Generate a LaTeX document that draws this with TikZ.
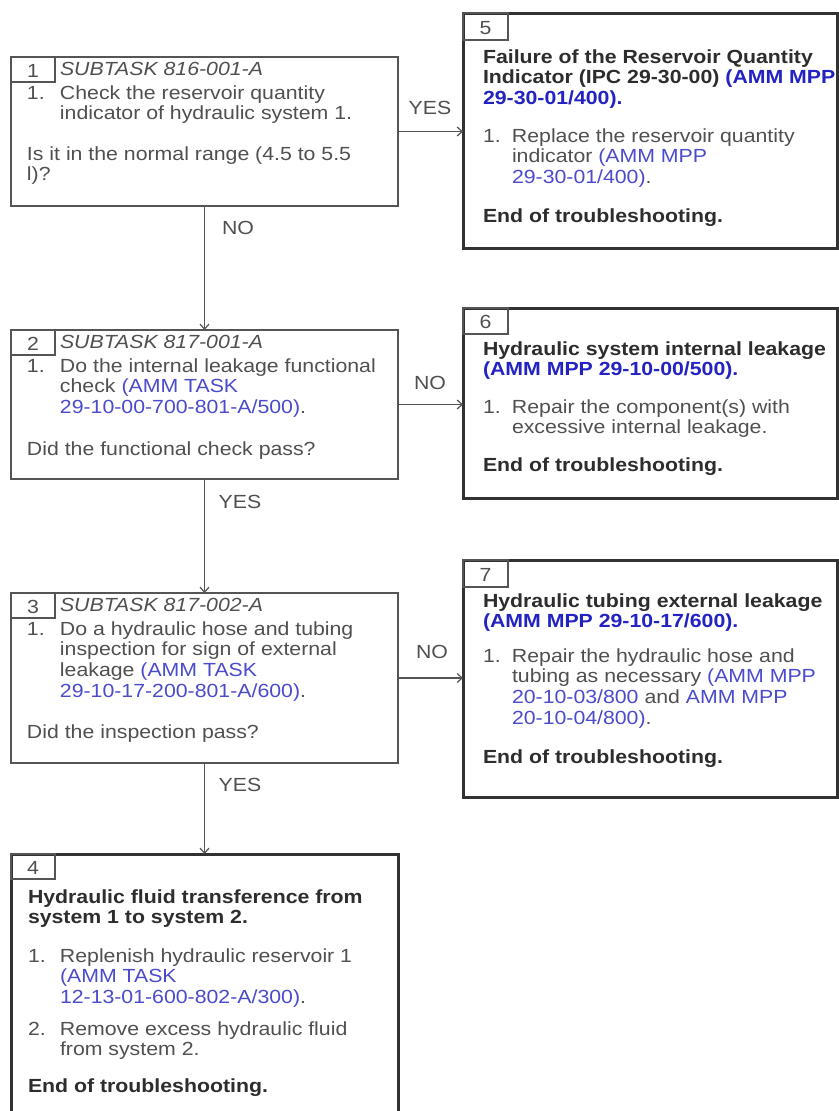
\documentclass[tikz,border=0pt]{standalone}
\usepackage{fontspec}
\setmainfont{Liberation Sans}[FakeStretch=1.12]
\usetikzlibrary{arrows.meta}
\definecolor{txtc}{RGB}{80,80,80}
\definecolor{hdc}{RGB}{45,45,45}
\definecolor{lnk}{RGB}{75,75,205}
\definecolor{blnk}{RGB}{35,35,195}
\definecolor{framec}{RGB}{85,85,85}
\definecolor{heavyc}{RGB}{50,50,50}
\newcommand\bodyfont{\fontsize{19}{20.7}\selectfont}
\newcommand\itm[3]{\parbox[t]{400pt}{\hangindent=#1\hangafter=1\noindent\makebox[#1][l]{#2}#3}}
\newcommand\pb[1]{\parbox[t]{400pt}{\noindent #1}}
\newcommand\lk[1]{\textcolor{lnk}{#1}}
\newcommand\blk[1]{\textcolor{blnk}{#1}}
\begin{document}
\begin{tikzpicture}[x=1pt,y=-1pt,
  every node/.style={inner sep=0pt,outer sep=0pt},
  lightbox/.style={draw=framec,line width=1.4pt,rectangle,anchor=north west},
  heavybox/.style={draw=heavyc,line width=3pt,rectangle,anchor=north west},
  tabbox/.style={draw=framec,line width=1.3pt,rectangle,anchor=north west,minimum width=44pt,minimum height=25pt},
  numtxt/.style={anchor=base,text=txtc,font=\bodyfont},
  subtxt/.style={anchor=base west,text=txtc,font=\bodyfont\itshape},
  bodytxt/.style={anchor=base west,text=txtc,font=\bodyfont},
  headtxt/.style={anchor=base west,text=hdc,font=\bodyfont\bfseries},
  lbl/.style={anchor=center,text=txtc,font=\bodyfont},
  conn/.style={draw=framec,line width=1.2pt,-{Straight Barb[length=5pt,width=9pt]}}
]
\useasboundingbox[fill=white] (0,0) rectangle (838,1111);

% ---------- Box 1 ----------
\node[lightbox,minimum width=387pt,minimum height=149pt] (b1) at (11,57) {};
\node[tabbox] (t1) at (11,57) {};
\node[numtxt] (n1) at (33,77) {1};
\node[subtxt] (s1) at (60,75) {SUBTASK 816-001-A};
\node[bodytxt] (p1a) at (27,99) {\itm{33pt}{1.}{Check the reservoir quantity\\indicator of hydraulic system 1.}};
\node[bodytxt] (p1b) at (27,160) {\pb{Is it in the normal range (4.5 to 5.5\\l)?}};

% ---------- Box 2 ----------
\node[lightbox,minimum width=387pt,minimum height=149pt] (b2) at (11,330) {};
\node[tabbox] (t2) at (11,330) {};
\node[numtxt] (n2) at (33,350) {2};
\node[subtxt] (s2) at (60,348) {SUBTASK 817-001-A};
\node[bodytxt] (p2a) at (27,372) {\itm{33pt}{1.}{Do the internal leakage functional\\check \lk{(AMM TASK}\\\lk{29-10-00-700-801-A/500)}.}};
\node[bodytxt] (p2b) at (27,455) {Did the functional check pass?};

% ---------- Box 3 ----------
\node[lightbox,minimum width=387pt,minimum height=170pt] (b3) at (11,593) {};
\node[tabbox] (t3) at (11,593) {};
\node[numtxt] (n3) at (33,613) {3};
\node[subtxt] (s3) at (60,611) {SUBTASK 817-002-A};
\node[bodytxt] (p3a) at (27,635) {\itm{33pt}{1.}{Do a hydraulic hose and tubing\\inspection for sign of external\\leakage \lk{(AMM TASK}\\\lk{29-10-17-200-801-A/600)}.}};
\node[bodytxt] (p3b) at (27,738) {Did the inspection pass?};

% ---------- Box 4 (cut at bottom) ----------
\node[minimum width=387pt,minimum height=262pt,anchor=north west] (b4) at (11,854) {};
\draw[draw=heavyc,line width=3pt] (b4.south west) -- (b4.north west) -- (b4.north east) -- (b4.south east);
\node[tabbox] (t4) at (11,854) {};
\node[numtxt] (n4) at (33,874) {4};
\node[headtxt] (h4) at (28,903) {\pb{Hydraulic fluid transference from\\system 1 to system 2.}};
\node[bodytxt] (p4a) at (28,962) {\itm{32pt}{1.}{Replenish hydraulic reservoir 1\\\lk{(AMM TASK}\\\lk{12-13-01-600-802-A/300)}.}};
\node[bodytxt] (p4b) at (28,1035) {\itm{32pt}{2.}{Remove excess hydraulic fluid\\from system 2.}};
\node[headtxt] (e4) at (28,1092) {End of troubleshooting.};

% ---------- Box 5 ----------
\node[heavybox,minimum width=374pt,minimum height=235pt] (b5) at (463,13) {};
\node[tabbox,minimum width=45pt,minimum height=27pt] (t5) at (463,13) {};
\node[numtxt] (n5) at (485.5,34) {5};
\node[headtxt] (h5) at (483,63) {\pb{Failure of the Reservoir Quantity\\Indicator (IPC 29-30-00) \blk{(AMM MPP}\\\blk{29-30-01/400).}}};
\node[bodytxt] (p5a) at (483,142) {\itm{29pt}{1.}{Replace the reservoir quantity\\indicator \lk{(AMM MPP}\\\lk{29-30-01/400)}.}};
\node[headtxt] (e5) at (483,222) {End of troubleshooting.};

% ---------- Box 6 ----------
\node[heavybox,minimum width=374pt,minimum height=190pt] (b6) at (463,308) {};
\node[tabbox,minimum width=45pt,minimum height=26pt] (t6) at (463,308) {};
\node[numtxt] (n6) at (485.5,328) {6};
\node[headtxt] (h6) at (483,355) {\pb{Hydraulic system internal leakage\\\blk{(AMM MPP 29-10-00/500).}}};
\node[bodytxt] (p6a) at (483,413) {\itm{29pt}{1.}{Repair the component(s) with\\excessive internal leakage.}};
\node[headtxt] (e6) at (483,471) {End of troubleshooting.};

% ---------- Box 7 ----------
\node[heavybox,minimum width=374pt,minimum height=237pt] (b7) at (463,560) {};
\node[tabbox,minimum width=45pt,minimum height=27pt] (t7) at (463,560) {};
\node[numtxt] (n7) at (485.5,581) {7};
\node[headtxt] (h7) at (483,607) {\pb{Hydraulic tubing external leakage\\\blk{(AMM MPP 29-10-17/600).}}};
\node[bodytxt] (p7a) at (483,662) {\itm{29pt}{1.}{Repair the hydraulic hose and\\tubing as necessary \lk{(AMM MPP}\\\lk{20-10-03/800} and \lk{AMM MPP}\\\lk{20-10-04/800)}.}};
\node[headtxt] (e7) at (483,763) {End of troubleshooting.};

% ---------- Connectors ----------
\draw[conn] (b1.east) -- (b1.east -| b5.west);
\draw[conn] (b1.south) -- (b2.north);
\draw[conn] (b2.east) -- (b2.east -| b6.west);
\draw[conn] (b2.south) -- (b3.north);
\draw[conn] (b3.east) -- (b3.east -| b7.west);
\draw[conn] (b3.south) -- (b4.north);

\node[lbl] (l15) at (430,108) {YES};
\node[lbl] (l12) at (238,228) {NO};
\node[lbl] (l26) at (430,383) {NO};
\node[lbl] (l23) at (240,502) {YES};
\node[lbl] (l37) at (432,652) {NO};
\node[lbl] (l34) at (240,785) {YES};
\end{tikzpicture}
\end{document}
